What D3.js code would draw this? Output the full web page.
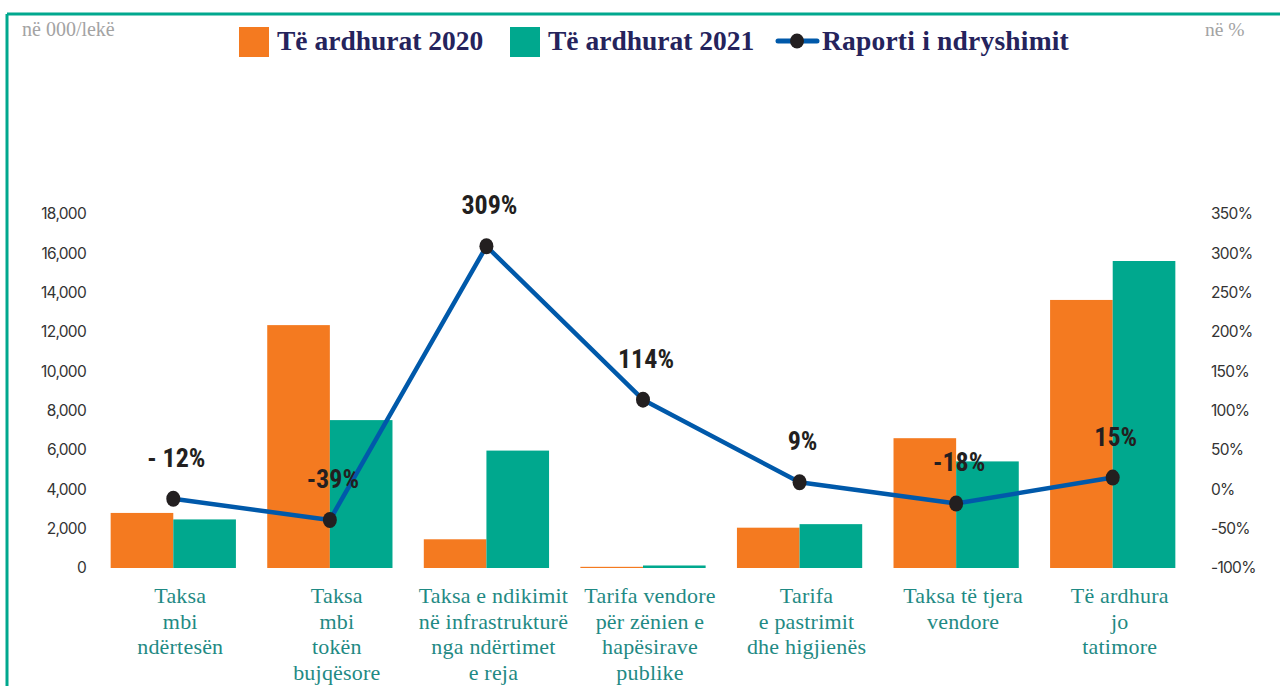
<!DOCTYPE html>
<html>
<head>
<meta charset="utf-8">
<script src="https://cdn.jsdelivr.net/npm/d3@7"></script>
<style>
  html, body { margin: 0; padding: 0; background: #fff; }
  svg { display: block; }
</style>
</head>
<body>
<svg id="chart" width="1280" height="686"></svg>
<script>
// Revenue categories (multi-line labels)
const categories = [
  ["Taksa", "mbi", "ndërtesën"],
  ["Taksa", "mbi", "tokën", "bujqësore"],
  ["Taksa e ndikimit", "në infrastrukturë", "nga ndërtimet", "e reja"],
  ["Tarifa vendore", "për zënien e", "hapësirave", "publike"],
  ["Tarifa", "e pastrimit", "dhe higjienës"],
  ["Taksa të tjera", "vendore"],
  ["Të ardhura", "jo", "tatimore"]
];
// Revenues in thousand lekë
const revenue2020 = [2800, 12350, 1460, 60, 2050, 6600, 13630];
const revenue2021 = [2470, 7520, 5970, 128, 2230, 5420, 15610];
// Change ratio in percent
const changeRatio = [-12, -39, 309, 114, 9, -18, 15];
const changeLabels = ["- 12%", "-39%", "309%", "114%", "9%", "-18%", "15%"];
// Axis ticks
const leftTicks = [0, 2000, 4000, 6000, 8000, 10000, 12000, 14000, 16000, 18000];
const rightTicks = [-100, -50, 0, 50, 100, 150, 200, 250, 300, 350];
const seriesNames = ["Të ardhurat 2020", "Të ardhurat 2021", "Raporti i ndryshimit"];

const colors = { y2020: "#f47a20", y2021: "#00a88e", line: "#0059aa", dot: "#231f20",
                 frame: "#00a88e", tick: "#333333", cat: "#1f8a84", legend: "#25235c" };

const svg = d3.select("#chart");

// Frame lines (top and left)
svg.append("line").attr("x1", 7).attr("x2", 1280).attr("y1", 14).attr("y2", 14)
  .attr("stroke", colors.frame).attr("stroke-width", 3);
svg.append("line").attr("x1", 7).attr("x2", 7).attr("y1", 14).attr("y2", 686)
  .attr("stroke", colors.frame).attr("stroke-width", 3);

const plot = { left: 95, right: 1191, top: 214, bottom: 568 };

const x = d3.scaleBand().domain(d3.range(categories.length))
  .range([plot.left, plot.right]).paddingInner(0.2).paddingOuter(0.1);
const xSub = d3.scaleBand().domain(["a", "b"]).range([0, x.bandwidth()]);
const yLeft = d3.scaleLinear().domain([0, 18000]).range([plot.bottom, plot.top]);
const yRight = d3.scaleLinear().domain([-100, 350]).range([plot.bottom, plot.top]);

// Left axis
const leftAxis = svg.append("g").attr("transform", `translate(${plot.left - 9},0)`)
  .call(d3.axisLeft(yLeft).tickValues(leftTicks).tickSize(0).tickPadding(0)
    .tickFormat(d3.format(",")));
leftAxis.select(".domain").remove();
leftAxis.selectAll("text").attr("fill", colors.tick)
  .style("font-family", "Inter, 'DejaVu Sans', sans-serif").style("font-size", "15.5px")
  .attr("letter-spacing", "-0.7");

// Right axis
const rightAxis = svg.append("g").attr("transform", `translate(${plot.right + 20},0)`)
  .call(d3.axisRight(yRight).tickValues(rightTicks).tickSize(0).tickPadding(0)
    .tickFormat(d => d + "%"));
rightAxis.select(".domain").remove();
rightAxis.selectAll("text").attr("fill", colors.tick)
  .style("font-family", "Inter, 'DejaVu Sans', sans-serif").style("font-size", "15.5px")
  .attr("letter-spacing", "-0.7");

// Bars
const groups = svg.append("g").selectAll("g").data(categories.map((c, i) => i)).join("g")
  .attr("transform", i => `translate(${x(i)},0)`);
groups.append("rect")
  .attr("x", xSub("a")).attr("width", xSub.bandwidth())
  .attr("y", i => yLeft(revenue2020[i])).attr("height", i => yLeft(0) - yLeft(revenue2020[i]))
  .attr("fill", colors.y2020);
groups.append("rect")
  .attr("x", xSub("b")).attr("width", xSub.bandwidth())
  .attr("y", i => yLeft(revenue2021[i])).attr("height", i => yLeft(0) - yLeft(revenue2021[i]))
  .attr("fill", colors.y2021);

// Change ratio line
const cx = i => x(i) + x.bandwidth() / 2;
const line = d3.line().x((d, i) => cx(i)).y(d => yRight(d));
svg.append("path").datum(changeRatio).attr("d", line)
  .attr("fill", "none").attr("stroke", colors.line).attr("stroke-width", 4.5)
  .attr("stroke-linejoin", "round");
svg.append("g").selectAll("ellipse").data(changeRatio).join("ellipse")
  .attr("cx", (d, i) => cx(i)).attr("cy", d => yRight(d))
  .attr("rx", 7).attr("ry", 8).attr("fill", colors.dot);

// Ratio labels
svg.append("g").selectAll("text").data(changeRatio).join("text")
  .attr("x", (d, i) => cx(i) + 3).attr("y", d => yRight(d) - 32)
  .attr("text-anchor", "middle")
  .attr("fill", colors.dot)
  .style("font-family", "'Liberation Sans Narrow', 'Roboto Condensed', 'Arial Narrow', sans-serif")
  .style("font-weight", "bold").style("font-size", "26px")
  .text((d, i) => changeLabels[i]);

// Category labels
const catG = svg.append("g").selectAll("text").data(categories).join("text")
  .attr("text-anchor", "middle")
  .attr("fill", colors.cat)
  .style("font-family", "'Liberation Serif', 'DejaVu Serif', serif")
  .style("font-size", "22px")
  .attr("letter-spacing", "0.2");
catG.each(function (lines, i) {
  d3.select(this).selectAll("tspan").data(lines).join("tspan")
    .attr("x", cx(i) + 7).attr("y", (l, j) => 603 + j * 25.5).text(l => l);
});

// Unit notes
svg.append("text").attr("x", 22).attr("y", 36).attr("fill", "#a3a3a3")
  .style("font-family", "'Liberation Serif', serif").style("font-size", "20px")
  .text("në 000/lekë");
svg.append("text").attr("x", 1205).attr("y", 36).attr("fill", "#a3a3a3")
  .style("font-family", "'Liberation Serif', serif").style("font-size", "19.5px")
  .text("në %");

// Legend
const legend = svg.append("g");
const legendFont = g => g.attr("fill", colors.legend)
  .style("font-family", "'Liberation Serif', 'DejaVu Serif', serif")
  .style("font-weight", "bold").style("font-size", "27.5px");
legend.append("rect").attr("x", 239).attr("y", 27).attr("width", 30).attr("height", 30).attr("fill", colors.y2020);
legend.append("text").attr("x", 277).attr("y", 50).call(legendFont).text(seriesNames[0]);
legend.append("rect").attr("x", 510).attr("y", 27).attr("width", 30).attr("height", 30).attr("fill", colors.y2021);
legend.append("text").attr("x", 548).attr("y", 50).call(legendFont).text(seriesNames[1]);
legend.append("line").attr("x1", 778).attr("x2", 817).attr("y1", 41).attr("y2", 41)
  .attr("stroke", colors.line).attr("stroke-width", 5).attr("stroke-linecap", "round");
legend.append("ellipse").attr("cx", 797).attr("cy", 41).attr("rx", 7).attr("ry", 7.5).attr("fill", colors.dot);
legend.append("text").attr("x", 822).attr("y", 50).call(legendFont)
  .attr("letter-spacing", "0.2").text(seriesNames[2]);
</script>
</body>
</html>
